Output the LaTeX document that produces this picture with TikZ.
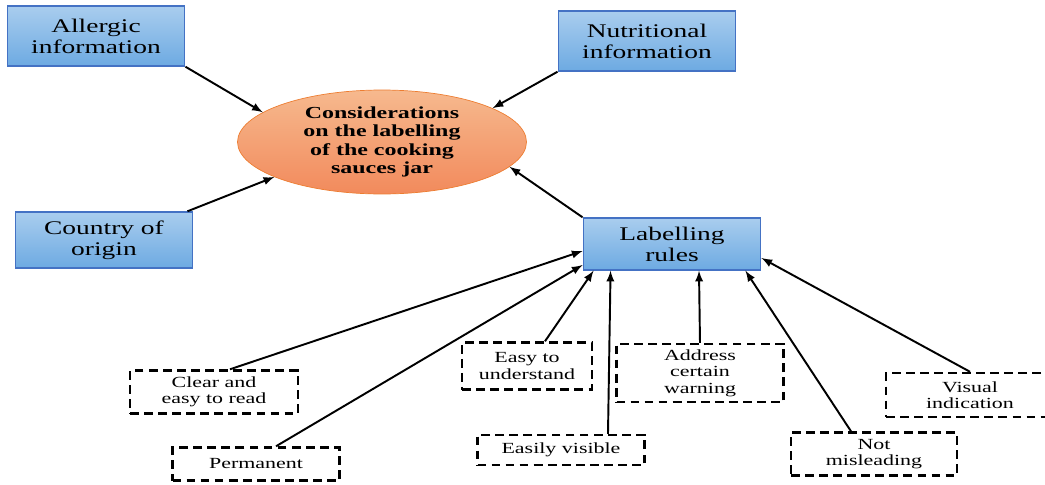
\documentclass[tikz,border=0pt]{standalone}
\usepackage{fontspec}
\setmainfont[FakeStretch=1.42]{Liberation Serif}
\usetikzlibrary{shapes.geometric}

\definecolor{azulclaro}{HTML}{A9CDEE}
\definecolor{azuloscuro}{HTML}{6DAAE2}
\definecolor{azulborde}{HTML}{4472C4}
\definecolor{naranjaclaro}{HTML}{F6B98E}
\definecolor{naranjaoscuro}{HTML}{F28A5C}
\definecolor{naranjaborde}{HTML}{ED7D31}

\tikzset{
  estilo mapa/.style={
      x=0.02cm, y=-0.02cm,
      caja/.style={rectangle, draw=azulborde, thick, top color=azulclaro, bottom color=azuloscuro,
          minimum width=3.55cm, minimum height=1.2cm, inner sep=0pt, align=center,
          font={\fontsize{11}{12}\selectfont}},
      centro/.style={ellipse, draw=naranjaborde, top color=naranjaclaro, bottom color=naranjaoscuro,
          minimum width=5.78cm, minimum height=2.08cm, inner sep=0pt, align=center,
          font={\fontsize{9.6}{10.6}\selectfont\bfseries}},
      regla/.style={rectangle, draw, line width=1.4pt, dash pattern=on 5pt off 3pt,
          inner sep=0pt, align=center, font={\fontsize{8.8}{9.4}\selectfont}},
      flecha/.style={-latex, line width=1.1pt},
    },
}

\begin{document}
\begin{tikzpicture}[estilo mapa]
            \useasboundingbox (0,0) rectangle (1045,484);

            \node[centro] (consid) at (382,142) {Considerations\\on the labelling\\of the cooking\\sauces jar};
            \node[caja] (alergico) at (96,36) {Allergic\\information};
            \node[caja] (nutricional) at (647,41) {Nutritional\\information};
            \node[caja, minimum height=1.12cm] (pais) at (104,240) {Country of\\origin};
            \node[caja, minimum height=1.04cm] (reglas) at (672,244) {Labelling\\rules};

            \node[regla, minimum width=3.36cm, minimum height=0.86cm] (claro) at (214,392) {Clear and\\easy to read};
            \node[regla, minimum width=3.34cm, minimum height=0.66cm] (permanente) at (256,464) {Permanent};
            \node[regla, minimum width=2.6cm, minimum height=0.94cm] (entender) at (527,366) {Easy to\\understand};
            \node[regla, minimum width=3.34cm, minimum height=0.6cm] (visible) at (561,450) {Easily visible};
            \node[regla, minimum width=3.34cm, minimum height=1.16cm] (advertencia) at (700,373) {Address\\certain\\warning};
            \node[regla, minimum width=3.32cm, minimum height=0.86cm] (engano) at (874,454) {Not\\misleading};
            \node[regla, minimum width=3.36cm, minimum height=0.88cm] (visual) at (970,395) {Visual\\indication};

            \draw[flecha] (alergico.south east) -- (consid.166);
            \draw[flecha] ([xshift=-0.12cm]pais.north east) -- (consid.198);
            \draw[flecha] (nutricional.south west) -- (consid.17);
            \draw[flecha] (reglas.north west) -- (consid.349);

            \draw[flecha] ([xshift=0.32cm]claro.north) -- ([yshift=-0.14cm]reglas.west);
            \draw[flecha] ([xshift=0.4cm]permanente.north) -- ([yshift=-0.42cm]reglas.west);
            \draw[flecha] ([xshift=0.36cm]entender.north) -- ([xshift=0.22cm]reglas.south west);
            \draw[flecha] ([xshift=0.94cm]visible.north) -- ([xshift=0.56cm]reglas.south west);
            \draw[flecha] (advertencia.north) -- ([xshift=0.54cm]reglas.south);
            \draw[flecha] ([xshift=-0.46cm]engano.north) -- ([xshift=-0.32cm]reglas.south east);
            \draw[flecha] (visual.north) -- ([yshift=-0.28cm]reglas.east);
          \end{tikzpicture}
\end{document}
